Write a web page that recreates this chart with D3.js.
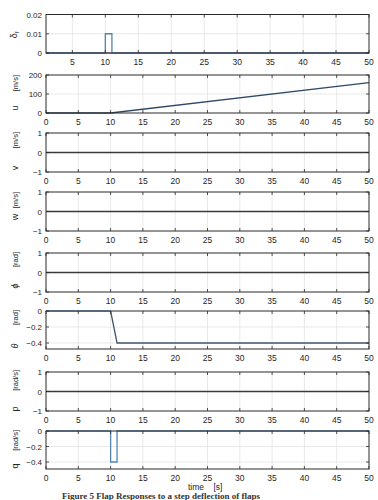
<!DOCTYPE html>
<html>
<head>
<meta charset="utf-8">
<script src="https://cdn.jsdelivr.net/npm/d3@7"></script>
<style>
  body { margin: 0; background: #fff; }
  svg { display: block; font-family: "Liberation Sans", Arial, sans-serif; }
</style>
</head>
<body>
<div id="chart"></div>
<script>
// time vectors and responses
var deltaT = [1, 10, 10, 11, 11, 50];
var deltaF = [0, 0, 0.01, 0.01, 0, 0];
var deltaBaseT = [1, 50];
var deltaBase = [0, 0];

var uT = [0, 10, 50];
var uVal = [0, 0, 160];

var zeroT = [0, 50];
var zeroVal = [0, 0];

var thetaT1 = [0, 10];
var thetaV1 = [0, 0];
var thetaT2 = [10, 11, 50];
var thetaV2 = [0, -0.4, -0.4];

var qT = [0, 10, 10, 11, 11, 50];
var qVal = [0, 0, -0.4, -0.4, 0, 0];

var xTicks = [0, 5, 10, 15, 20, 25, 30, 35, 40, 45, 50];
var yTicksDelta = [0, 0.01, 0.02];
var yTicksU = [0, 100, 200];
var yTicksUnit = [-1, 0, 1];
var yTicksAng = [-0.4, -0.2, 0];

var width = 378, height = 500;
var left = 46, right = 369;

// panel layout: top / bottom pixel rows, label positions
var panels = [
  { top: 14.5, bottom: 53, xd: [1, 50], yd: [0, 0.02], yt: yTicksDelta, fmt: d => d === 0 ? '0' : d3.format('.2f')(d),
    sym: 'δ', sub: 'f', unit: '', symY: 35, symX: 14,
    series: [ { t: deltaBaseT, v: deltaBase, c: '#a07a9c' }, { t: deltaT, v: deltaF, c: '#5583b0' } ] },
  { top: 75, bottom: 113, xd: [0, 50], yd: [0, 200], yt: yTicksU, fmt: d3.format('d'),
    sym: 'u', unit: '[m/s]', symY: 108, unitY: 75,
    series: [ { t: uT, v: uVal, c: '#2f4a66' } ] },
  { top: 133, bottom: 172, xd: [0, 50], yd: [-1, 1], yt: yTicksUnit, fmt: d3.format('d'),
    sym: 'v', unit: '[m/s]', symY: 168, unitY: 132,
    series: [ { t: zeroT, v: zeroVal, c: '#3a3a3a' } ] },
  { top: 192, bottom: 231, xd: [0, 50], yd: [-1, 1], yt: yTicksUnit, fmt: d3.format('d'),
    sym: 'w', unit: '[m/s]', symY: 217, unitY: 192,
    series: [ { t: zeroT, v: zeroVal, c: '#3a3a3a' } ] },
  { top: 253, bottom: 292, xd: [0, 50], yd: [-1, 1], yt: yTicksUnit, fmt: d3.format('d'),
    sym: 'ϕ', italic: true, unit: '[rad]', symY: 286, unitY: 252,
    series: [ { t: zeroT, v: zeroVal, c: '#3a3a3a' } ] },
  { top: 311, bottom: 349, xd: [0, 50], yd: [-0.475, 0], yt: yTicksAng, fmt: d => d === 0 ? '0' : d3.format('.1f')(d),
    sym: 'θ', italic: true, unit: '[rad]', symY: 346, unitY: 310,
    series: [ { t: thetaT2, v: thetaV2, c: '#41566c' }, { t: thetaT1, v: thetaV1, c: '#5b8fc0' } ] },
  { top: 372, bottom: 411, xd: [0, 50], yd: [-1, 1], yt: yTicksUnit, fmt: d3.format('d'),
    sym: 'p', unit: '[rad/s]', symY: 409, unitY: 370,
    series: [ { t: zeroT, v: zeroVal, c: '#3a3a3a' } ] },
  { top: 431, bottom: 469, xd: [0, 50], yd: [-0.49, 0], yt: yTicksAng, fmt: d => d === 0 ? '0' : d3.format('.1f')(d),
    sym: 'q', unit: '[rad/s]', symY: 466, unitY: 430,
    series: [ { t: qT, v: qVal, c: '#5585b5' } ] }
];

var svg = d3.select('#chart').append('svg')
  .attr('width', width)
  .attr('height', height);

panels.forEach(function (p) {
  var x = d3.scaleLinear().domain(p.xd).range([left, right]);
  var y = d3.scaleLinear().domain(p.yd).range([p.bottom, p.top]);
  var g = svg.append('g');
  var xt = xTicks.filter(d => d >= p.xd[0] && d <= p.xd[1]);

  // grid
  g.selectAll('.gx').data(xt.filter(d => d > p.xd[0] && d < p.xd[1])).enter().append('line')
    .attr('x1', d => x(d)).attr('x2', d => x(d))
    .attr('y1', p.top).attr('y2', p.bottom)
    .attr('stroke', '#e3e3e3').attr('stroke-width', 0.8);
  g.selectAll('.gy').data(p.yt.filter(d => y(d) > p.top + 1 && y(d) < p.bottom - 1)).enter().append('line')
    .attr('x1', left).attr('x2', right)
    .attr('y1', d => y(d)).attr('y2', d => y(d))
    .attr('stroke', '#e3e3e3').attr('stroke-width', 0.8);

  // data lines
  p.series.forEach(function (s) {
    var pts = s.t.map((t, i) => [t, s.v[i]]);
    g.append('path')
      .datum(pts)
      .attr('fill', 'none')
      .attr('stroke', s.c)
      .attr('stroke-width', 1.3)
      .attr('d', d3.line().x(d => x(d[0])).y(d => y(d[1])));
  });

  // box
  g.append('rect')
    .attr('x', left).attr('y', p.top)
    .attr('width', right - left).attr('height', p.bottom - p.top)
    .attr('fill', 'none').attr('stroke', '#2a2a2a').attr('stroke-width', 1);

  // inward ticks
  xt.forEach(function (d) {
    g.append('line').attr('x1', x(d)).attr('x2', x(d)).attr('y1', p.bottom).attr('y2', p.bottom - 3)
      .attr('stroke', '#2a2a2a').attr('stroke-width', 0.8);
    g.append('line').attr('x1', x(d)).attr('x2', x(d)).attr('y1', p.top).attr('y2', p.top + 3)
      .attr('stroke', '#2a2a2a').attr('stroke-width', 0.8);
  });
  p.yt.forEach(function (d) {
    g.append('line').attr('x1', left).attr('x2', left + 3).attr('y1', y(d)).attr('y2', y(d))
      .attr('stroke', '#2a2a2a').attr('stroke-width', 0.8);
    g.append('line').attr('x1', right).attr('x2', right - 3).attr('y1', y(d)).attr('y2', y(d))
      .attr('stroke', '#2a2a2a').attr('stroke-width', 0.8);
  });

  // tick labels
  g.selectAll('.xl').data(xt.filter(d => d >= Math.ceil(p.xd[0] / 5) * 5)).enter().append('text')
    .attr('x', d => x(d)).attr('y', p.bottom + 12)
    .attr('text-anchor', 'middle').attr('font-size', 8.5).attr('fill', '#262626')
    .text(d => d);
  g.selectAll('.yl').data(p.yt).enter().append('text')
    .attr('x', left - 4).attr('y', d => y(d) + 3)
    .attr('text-anchor', 'end').attr('font-size', 8).attr('fill', '#262626')
    .text(p.fmt);

  // y label
  var sx = p.symX || 15;
  var sym = g.append('text')
    .attr('transform', 'translate(' + (sx + 3) + ',' + p.symY + ') rotate(-90)')
    .attr('text-anchor', 'middle').attr('font-size', 9).attr('fill', '#262626')
    .style('font-style', p.italic ? 'italic' : 'normal')
    .text(p.sym);
  if (p.sub) {
    sym.append('tspan').attr('font-size', 6).attr('dy', 2).text(p.sub);
  }
  if (p.unit) {
    g.append('text')
      .attr('transform', 'translate(' + (sx + 3) + ',' + p.unitY + ') rotate(-90)')
      .attr('text-anchor', 'end').attr('font-size', 7.5).attr('fill', '#262626')
      .text(p.unit);
  }
});

svg.append('text')
  .attr('x', 188).attr('y', 490)
  .attr('font-size', 8.5).attr('fill', '#262626')
  .attr('xml:space', 'preserve')
  .text('time    [s]');

svg.append('text')
  .attr('x', 62).attr('y', 499)
  .attr('font-family', '"Liberation Serif", serif')
  .attr('font-size', 9).attr('font-weight', 'bold').attr('fill', '#333')
  .text('Figure 5 Flap Responses to a step deflection of flaps');
</script>
</body>
</html>
